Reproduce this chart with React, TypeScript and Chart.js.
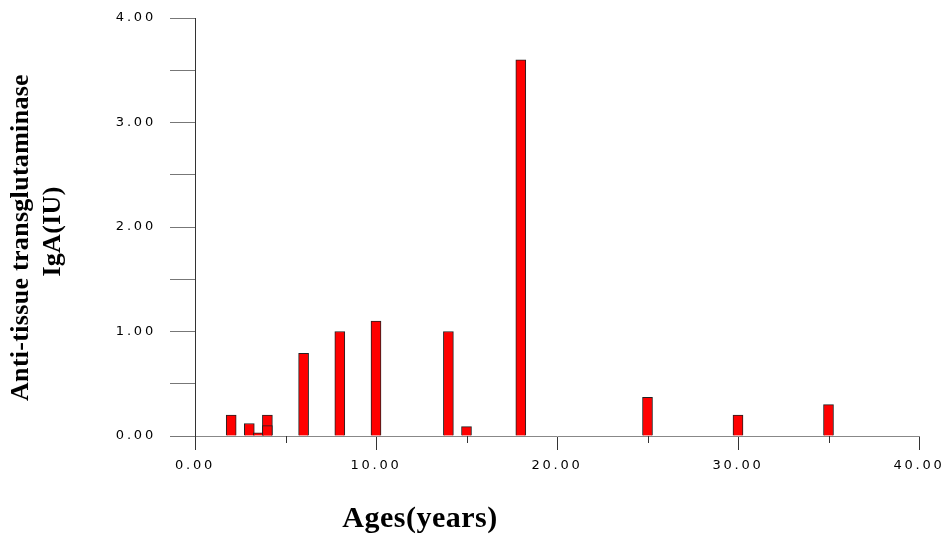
import { useEffect, useRef } from "react";
import { Chart, registerables } from "chart.js";

Chart.register(...registerables);

// ---- data ----
const ages = [2, 3, 3.5, 4, 4, 6, 8, 10, 14, 15, 18, 25, 30, 35];
const values = [0.2, 0.12, 0.03, 0.2, 0.1, 0.79, 1.0, 1.1, 1.0, 0.09, 3.6, 0.37, 0.2, 0.3];

const xTitle = "Ages(years)";
const yTitleLines = ["Anti-tissue transglutaminase", "IgA(IU)"];

const xMin = 0;
const xMax = 40;
const xMinorStep = 5;
const xLabelStep = 10;

const yMin = 0;
const yMax = 4;
const yMinorStep = 0.5;
const yLabelStep = 1;

const labelSpacing = "2.8px";

const spacingPlugin = {
  id: "spacing",
  beforeUpdate(chart: any) {
    chart.ctx.letterSpacing = labelSpacing;
  },
  beforeDraw(chart: any) {
    chart.ctx.letterSpacing = labelSpacing;
  },
};

const decorPlugin = {
  id: "decor",
  afterDraw(chart: any) {
    const ctx = chart.ctx;
    const xs = chart.scales.x;
    const bottom = chart.chartArea.bottom;
    ctx.save();
    // minor x ticks (shorter)
    ctx.strokeStyle = "#333";
    ctx.lineWidth = 1;
    xs.ticks.forEach((t: any) => {
      if (t.value % xLabelStep !== 0) {
        const px = Math.round(xs.getPixelForValue(t.value)) + 0.5;
        ctx.beginPath();
        ctx.moveTo(px, bottom);
        ctx.lineTo(px, bottom + 7);
        ctx.stroke();
      }
    });
    // axis titles
    ctx.letterSpacing = "0.5px";
    ctx.fillStyle = "#000";
    ctx.font = 'bold 30px "Liberation Serif"';
    ctx.textAlign = "center";
    ctx.textBaseline = "alphabetic";
    ctx.fillText(xTitle, 420, 527);

    ctx.font = 'bold 26px "Liberation Serif"';
    ctx.letterSpacing = "0.3px";
    const ys = [237.5, 231.5];
    const xsPos = [27.5, 60];
    yTitleLines.forEach((line, i) => {
      ctx.save();
      ctx.translate(xsPos[i], ys[i]);
      ctx.rotate(-Math.PI / 2);
      ctx.fillText(line, 0, 0);
      ctx.restore();
    });
    ctx.restore();
  },
};

export default function App() {
  const ref = useRef<HTMLCanvasElement | null>(null);

  useEffect(() => {
    document.body.style.margin = "0";
    const canvas = ref.current;
    if (!canvas) return;
    const chart = new Chart(canvas, {
      type: "bar",
      data: {
        datasets: [
          {
            data: ages.map((a, i) => ({ x: a, y: values[i] })),
            backgroundColor: "#ff0000",
            borderColor: "#222222",
            borderWidth: 1,
            barThickness: 10,
          },
        ],
      },
      options: {
        animation: false,
        responsive: false,
        devicePixelRatio: 1,
        layout: { padding: { top: 18, right: 29, left: 0, bottom: 0 } },
        plugins: {
          legend: { display: false },
          tooltip: { enabled: false },
          title: { display: false },
        },
        scales: {
          x: {
            type: "linear",
            min: xMin,
            max: xMax,
            offset: false,
            afterFit(s: any) {
              s.height = 102;
              s.paddingLeft = 0;
              s.paddingRight = 0;
            },
            ticks: {
              stepSize: xMinorStep,
              autoSkip: false,
              maxRotation: 0,
              padding: 8,
              color: "#000",
              font: { family: '"DejaVu Sans"', size: 13 },
              callback: (v: any) => (Number(v) % xLabelStep === 0 ? Number(v).toFixed(2) : ""),
            },
            grid: {
              drawOnChartArea: false,
              offset: false,
              tickLength: 14,
              tickColor: (c: any) =>
                c.tick && c.tick.value % xLabelStep === 0 ? "#333" : "rgba(0,0,0,0)",
            },
            border: { color: "#888", width: 1 },
          },
          y: {
            min: yMin,
            max: yMax,
            afterFit(s: any) {
              s.width = 195;
              s.paddingTop = 0;
              s.paddingBottom = 0;
            },
            ticks: {
              stepSize: yMinorStep,
              autoSkip: false,
              padding: 14,
              color: "#000",
              font: { family: '"DejaVu Sans"', size: 13 },
              callback: (v: any) => (Number(v) % yLabelStep === 0 ? Number(v).toFixed(2) : ""),
            },
            grid: {
              drawOnChartArea: false,
              tickLength: 25,
              tickColor: "#777",
            },
            border: { color: "#333", width: 1 },
          },
        },
      },
      plugins: [spacingPlugin, decorPlugin],
    });
    return () => chart.destroy();
  }, []);

  return (
    <div style={{ width: 948, height: 538 }}>
      <canvas ref={ref} width={948} height={538} style={{ display: "block" }} />
    </div>
  );
}
